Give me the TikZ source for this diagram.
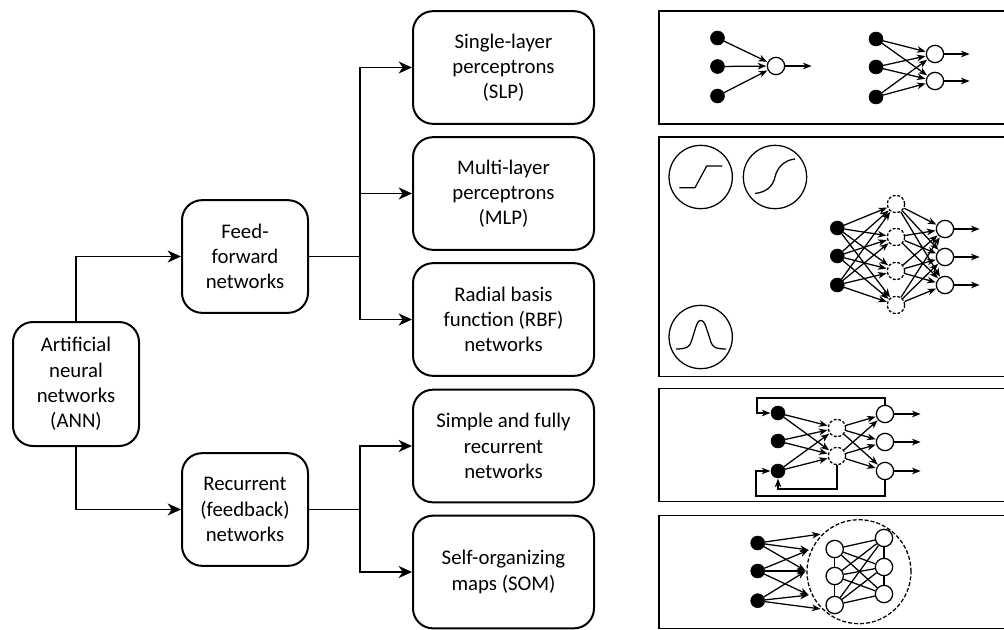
\documentclass[tikz,border=0pt]{standalone}
\usepackage{fontspec}
\setmainfont{Carlito}
\usetikzlibrary{arrows.meta}
\tikzset{
  box/.style={draw,line width=1.5pt,rounded corners=15pt,align=center,minimum width=94.5pt,minimum height=84.5pt,inner sep=0pt,font=\fontsize{15.6}{18.9}\selectfont},
  main/.style={line width=1.4pt,-{Stealth[length=10pt,width=9pt,inset=3pt]}},
  plain/.style={line width=1.4pt},
  panel/.style={draw,line width=1.1pt},
  inp/.style={circle,fill=black,draw=black,inner sep=0pt,minimum size=10.5pt},
  neuron/.style={circle,draw=black,fill=white,line width=0.95pt,inner sep=0pt,minimum size=13pt},
  hid/.style={neuron,dash pattern=on 2.2pt off 1.3pt},
  lk/.style={line width=0.95pt,-{Stealth[length=6.5pt,width=5pt,inset=2pt]},shorten >=0.3pt},
  ln/.style={line width=0.95pt},
  big/.style={circle,draw=black,line width=0.95pt,inner sep=0pt,minimum size=47.5pt},
  curve/.style={line width=0.95pt}
}
\begin{document}
\begin{tikzpicture}[x=0.75pt,y=-0.75pt]
\useasboundingbox (0,0) rectangle (1004,629);
% main boxes
\node[box,minimum width=94.5pt,minimum height=93pt] (ann) at (76,384) {Artificial\\neural\\networks\\(ANN)};
\node[box] (ff) at (245,256.5) {Feed-\\forward\\networks};
\node[box] (rec) at (245,509.5) {Recurrent\\(feedback)\\networks};
\node[box,minimum width=135.75pt] (slp) at (503.5,67.5) {Single-layer\\perceptrons\\(SLP)};
\node[box,minimum width=135.75pt] (mlp) at (503.5,193.5) {Multi-layer\\perceptrons\\(MLP)};
\node[box,minimum width=135.75pt] (rbf) at (503.5,319.5) {Radial basis\\function (RBF)\\networks};
\node[box,minimum width=135.75pt] (sfr) at (503.5,446) {Simple and fully\\recurrent\\networks};
\node[box,minimum width=135.75pt] (som) at (503.5,572) {Self-organizing\\maps (SOM)};
\draw[main] (ann.north) |- (ff.west);
\draw[main] (ann.south) |- (rec.west);
\coordinate (j1) at (360,256.5);
\coordinate (j2) at (360,509.5);
\draw[plain] (ff.east) -- (j1);
\draw[plain] (rec.east) -- (j2);
\draw[main] (j1) |- (slp.west);
\draw[main] (j1) -- (mlp.west -| j1) -- (mlp.west);
\draw[main] (j1) |- (rbf.west);
\draw[main] (j2) |- (sfr.west);
\draw[main] (j2) |- (som.west);
% panels
\draw[panel] (659,11) rectangle (1008,124);
\draw[panel] (659,137) rectangle (1008,376.5);
\draw[panel] (659,388.5) rectangle (1008,501.5);
\draw[panel] (659,515.5) rectangle (1008,628.5);
% SLP panel
\foreach \n/\y in {1/38,2/66.5,3/96}{\node[inp] (a\n) at (717.5,\y) {};}
\node[neuron] (ao) at (776,66) {};
\coordinate (aoe) at (812,66);
\foreach \n in {1,2,3}{\draw[lk] (a\n) -- (ao);}
\draw[lk] (ao) -- (aoe);
\foreach \n/\y in {1/39,2/67,3/97}{\node[inp] (b\n) at (876,\y) {};}
\node[neuron] (bo1) at (935,54) {};
\node[neuron] (bo2) at (935,81) {};
\coordinate (bo1e) at (970,54);
\coordinate (bo2e) at (970,81);
\foreach \n in {1,2,3}{\foreach \m in {1,2}{\draw[lk] (b\n) -- (bo\m);}}
\draw[lk] (bo1) -- (bo1e);
\draw[lk] (bo2) -- (bo2e);
% MLP panel: activation functions
\node[big] (f1) at (700.7,177) {};
\node[big] (f2) at (775,177) {};
\node[big] (f3) at (700.7,337) {};
\draw[curve] (679.3,187.7) -- (695,187.7) -- (706.7,166) -- (722.3,166);
\draw[curve] (755,193.5) .. controls (767,192) and (773,186) .. (775,177) .. controls (777,168) and (784,160) .. (795,159);
\draw[curve] (676,349) .. controls (692,349) and (690,344) .. (694,333) .. controls (697,323) and (698,320.5) .. (700.7,320.5) .. controls (703.5,320.5) and (705,323) .. (708,333) .. controls (712,344) and (710,349) .. (726,349);
% MLP network
\foreach \n/\y in {1/228,2/256,3/285}{\node[inp] (c\n) at (837.3,\y) {};}
\foreach \n/\y in {1/204,2/237,3/271,4/305}{\node[hid] (d\n) at (896,\y) {};}
\foreach \n/\y in {1/229,2/257,3/285}{\node[neuron] (e\n) at (945,\y) {}; \coordinate (e\n e) at (980,\y);}
\foreach \n in {1,2,3}{\foreach \m in {1,2,3,4}{\draw[lk] (c\n) -- (d\m);}}
\foreach \n in {1,2,3,4}{\foreach \m in {1,2,3}{\draw[lk] (d\n) -- (e\m);}}
\foreach \n in {1,2,3}{\draw[lk] (e\n) -- (e\n e);}
% recurrent panel
\foreach \n/\y in {1/413,2/441,3/471}{\node[inp] (g\n) at (778,\y) {};}
\foreach \n/\y in {1/428,2/456}{\node[hid] (h\n) at (837,\y) {};}
\foreach \n/\y in {1/414,2/442,3/471}{\node[neuron] (i\n) at (885,\y) {}; \coordinate (i\n e) at (921,\y);}
\foreach \n in {1,2,3}{\foreach \m in {1,2}{\draw[lk] (g\n) -- (h\m);}}
\foreach \n in {1,2}{\foreach \m in {1,2,3}{\draw[lk] (h\n) -- (i\m);}}
\foreach \n in {1,2,3}{\draw[lk] (i\n) -- (i\n e);}
\coordinate (r1) at (757,398);
\coordinate (r2) at (756,496);
\coordinate (r3) at (778,489);
\draw[lk] (i1.north) |- (r1) |- (g1.west);
\draw[lk] (i3.south) |- (r2) |- (g3.west);
\draw[lk] (h2.south) |- (r3) -- (g3.south);
% SOM panel
\foreach \n/\y in {1/543,2/571,3/600.7}{\node[inp] (k\n) at (757.7,\y) {};}
\node[circle,draw=black,line width=0.95pt,dash pattern=on 3pt off 1.5pt,inner sep=0pt,minimum size=78pt] (map) at (859,571.7) {};
\coordinate (t1) at (821,534);
\coordinate (t2) at (809,550);
\coordinate (t3) at (806,571);
\coordinate (t4) at (809,595);
\coordinate (t5) at (821,609);
\foreach \s/\t in {1/1,1/2,1/3,2/2,2/3,2/4,3/3,3/4,3/5}{\draw[lk] (k\s) -- (t\t);}
\foreach \n/\y in {1/549,2/576,3/605}{\node[neuron] (m\n) at (834.7,\y) {};}
\foreach \n/\y in {1/538,2/567,3/594}{\node[neuron] (n\n) at (884,\y) {};}
\foreach \s in {1,2,3}{\foreach \t in {1,2,3}{\draw[ln] (m\s) -- (n\t);}}
\draw[ln] (m1) -- (m2);
\draw[ln] (m2) -- (m3);
\draw[ln] (n1) -- (n2);
\draw[ln] (n2) -- (n3);
\end{tikzpicture}
\end{document}
